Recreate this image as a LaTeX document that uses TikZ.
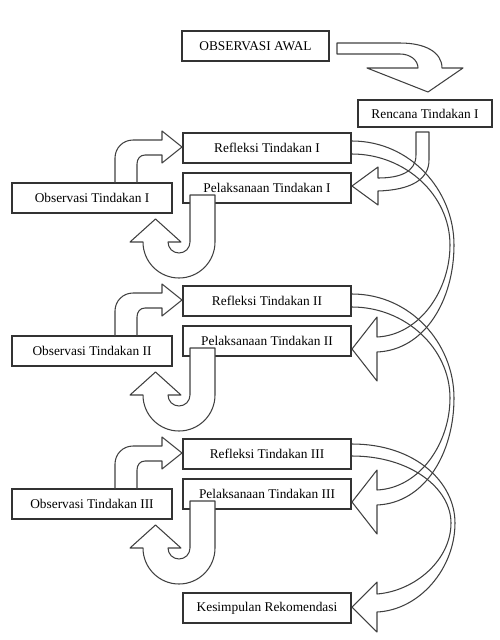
\documentclass[tikz,border=0pt]{standalone}
\usepackage{fontspec}
\setmainfont{Liberation Serif}
\begin{document}
\begin{tikzpicture}[x=0.02cm,y=-0.02cm,
  box/.style={draw=black!80, line width=0.6pt, inner sep=0pt, minimum height=0.6cm, font=\fontsize{7.6}{9}\selectfont},
  blk/.style={draw=black!75, line width=0.6pt, line join=round},
  hook/.style={blk, fill=white}]
\useasboundingbox (0,0) rectangle (500,640);
% top boxes
\node[box, minimum width=2.94cm] (awal) at (255.5,46) {OBSERVASI AWAL};
\node[box, minimum width=2.68cm, minimum height=0.54cm] (rencana) at (425,113.5) {Rencana Tindakan I};
\node[box, minimum width=3.36cm] (kes) at (267,608) {Kesimpulan Rekomendasi};
% curved arrow awal -> rencana
\draw[blk] (337,43) -- (400,43) .. controls (425,43) and (442,52) .. (442,68) -- (463,68) -- (428,92) -- (367,68) -- (418,68) .. controls (418,60) and (410,54) .. (400,54) -- (337,54) -- cycle;
% J arrow rencana -> pelaksanaan I
\draw[blk] (416,132) -- (429,132) -- (429,160) .. controls (429,180) and (410,190) .. (378,191) -- (378,205) -- (352,186) -- (378,167) -- (378,178) .. controls (400,178) and (416,172) .. (416,155) -- cycle;
\foreach \i/\d/\r in {1/0/I,2/153/II,3/306/III}{
  \node[box, minimum width=3.36cm] (ref\i) at (267,{148+\d}) {Refleksi Tindakan \r};
  \node[box, minimum width=3.36cm] (pel\i) at (267,{188+\d}) {Pelaksanaan Tindakan \r};
  \node[box, minimum width=3.2cm] (obs\i) at (92,{198+\d}) {Observasi Tindakan \r};
  % observasi -> refleksi
  \draw[blk] (115,{183+\d}) -- (115,{158+\d}) .. controls (115,{148+\d}) and (123,{140+\d}) .. (133,{140+\d}) -- (162,{140+\d}) -- (162,{131+\d}) -- (182,{147+\d}) -- (162,{163+\d}) -- (162,{155+\d}) -- (145,{155+\d}) .. controls (140,{155+\d}) and (137,{159+\d}) .. (137,{164+\d}) -- (137,{183+\d});
  % U-turn hook pelaksanaan -> observasi
  \draw[hook] (190,{195+\d}) -- (215,{195+\d}) -- (215,{242+\d}) arc[start angle=0, end angle=180, radius=36] -- (130,{242+\d}) -- (155.5,{219+\d}) -- (181,{242+\d}) -- (168,{242+\d}) arc[start angle=180, end angle=0, radius=11] -- cycle;
}
% big curved arrows refleksi I -> pelaksanaan II, refleksi II -> pelaksanaan III
\foreach \d in {0,153}{
  \draw[blk] (352,{141+\d}) .. controls (410,{141+\d}) and (454,{190+\d}) .. (454,{245+\d}) .. controls (454,{300+\d}) and (425,{350+\d}) .. (377,{352+\d}) -- (377,{381+\d}) -- (352,{349+\d}) -- (377,{317+\d}) -- (377,{337+\d}) .. controls (420,{335+\d}) and (450,{290+\d}) .. (450,{245+\d}) .. controls (450,{195+\d}) and (405,{154+\d}) .. (352,{154+\d});
}
% refleksi III -> kesimpulan
\draw[blk] (352,444) .. controls (415,444) and (455,482) .. (455,523) .. controls (455,568) and (420,610) .. (377,612) -- (377,632) -- (352,607) -- (377,582) -- (377,594) .. controls (415,591) and (451,560) .. (451,523) .. controls (451,488) and (410,456) .. (352,456);
\end{tikzpicture}
\end{document}
